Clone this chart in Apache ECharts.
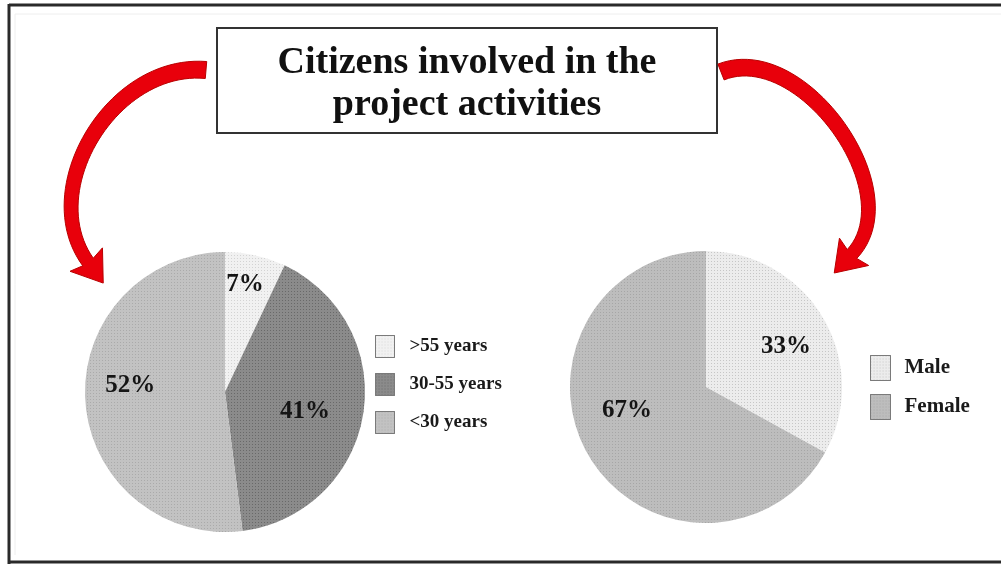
<!DOCTYPE html>
<html>
<head>
<meta charset="utf-8">
<title>Citizens involved in the project activities</title>
<script src="https://cdn.jsdelivr.net/npm/echarts@6/dist/echarts.min.js"></script>
<style>
  html, body { margin: 0; padding: 0; background: #ffffff; }
  #chart { width: 1001px; height: 564px; }
</style>
</head>
<body>
<div id="chart"></div>
<script>
// ---- data ----
const ageGroups = ['>55 years', '30-55 years', '<30 years'];
const ageShares = [7, 41, 52];
const genders = ['Male', 'Female'];
const genderShares = [33, 67];
const titleLines = ['Citizens involved in the', 'project activities'];

// ---- styles ----
const serif = '"Liberation Serif", "DejaVu Serif", serif';
const ageColors = ['#f1f1f1', '#8b8b8b', '#c2c2c2'];
const ageDots = ['rgba(0,0,0,0.12)', 'rgba(0,0,0,0.24)', 'rgba(0,0,0,0.12)'];
const genderColors = ['#ececec', '#bdbdbd'];
const genderDots = ['rgba(0,0,0,0.16)', 'rgba(0,0,0,0.12)'];
// small shifts of the value labels away from the default inside spot
const ageLabelNudge = [[4, -36], [8, 8], [-22, -11]];
const genderLabelNudge = [[19, -4], [-18, -13]];

function dotted(color) {
  return {
    symbol: 'rect',
    symbolSize: 1,
    dashArrayX: [1, 2],
    dashArrayY: [1, 2],
    rotation: 0,
    color: color
  };
}

function sliceData(names, values, colors, dots) {
  return names.map((n, i) => ({
    name: n,
    value: values[i],
    itemStyle: { color: colors[i], decal: dotted(dots[i]) }
  }));
}

// curved red arrow: a tapering band along a cubic bezier with a triangular head
function cubicPt(p, t) {
  const u = 1 - t;
  const a = u * u * u, b = 3 * u * u * t, c = 3 * u * t * t, d = t * t * t;
  return [a * p[0][0] + b * p[1][0] + c * p[2][0] + d * p[3][0],
          a * p[0][1] + b * p[1][1] + c * p[2][1] + d * p[3][1]];
}
function cubicDir(p, t) {
  const u = 1 - t;
  const dx = 3 * u * u * (p[1][0] - p[0][0]) + 6 * u * t * (p[2][0] - p[1][0]) + 3 * t * t * (p[3][0] - p[2][0]);
  const dy = 3 * u * u * (p[1][1] - p[0][1]) + 6 * u * t * (p[2][1] - p[1][1]) + 3 * t * t * (p[3][1] - p[2][1]);
  const l = Math.hypot(dx, dy) || 1;
  return [dx / l, dy / l];
}
function arrowPoints(p, w0, w1, headHalf, headLen) {
  const left = [], right = [];
  const N = 48;
  for (let i = 0; i <= N; i++) {
    const t = i / N;
    const c = cubicPt(p, t);
    const d = cubicDir(p, t);
    const n = [-d[1], d[0]];
    const w = (w0 + (w1 - w0) * t) / 2;
    left.push([c[0] + n[0] * w, c[1] + n[1] * w]);
    right.push([c[0] - n[0] * w, c[1] - n[1] * w]);
  }
  const e = cubicPt(p, 1);
  const d = cubicDir(p, 1);
  const n = [-d[1], d[0]];
  const head = [
    [e[0] + n[0] * headHalf - d[0] * 3, e[1] + n[1] * headHalf - d[1] * 3],
    [e[0] + d[0] * headLen, e[1] + d[1] * headLen],
    [e[0] - n[0] * headHalf - d[0] * 3, e[1] - n[1] * headHalf - d[1] * 3]
  ];
  return left.concat(head, right.reverse());
}

const leftArrow = arrowPoints([[206, 70], [112, 62], [36, 190], [88, 262]], 17, 13, 20, 26);
const rightArrow = arrowPoints([[721, 72], [802, 40], [910, 192], [852, 254]], 17, 13, 20, 26);

const chart = echarts.init(document.getElementById('chart'), null, { renderer: 'canvas' });

const option = {
  backgroundColor: '#ffffff',
  animation: false,
  title: {
    text: titleLines.join('\n'),
    left: 467,
    top: 42,
    textAlign: 'center',
    padding: 0,
    textStyle: {
      fontFamily: serif,
      fontWeight: 'bold',
      fontSize: 38,
      lineHeight: 42,
      color: '#111111'
    }
  },
  legend: [
    {
      data: ageGroups,
      orient: 'vertical',
      left: 375,
      top: 335,
      padding: 0,
      itemWidth: 19,
      itemHeight: 22,
      itemGap: 15,
      icon: 'rect',
      selectedMode: false,
      itemStyle: { borderColor: '#7a7a7a', borderWidth: 1 },
      textStyle: {
        fontFamily: serif,
        fontWeight: 'bold',
        fontSize: 19,
        color: '#1a1a1a',
        padding: [0, 0, 0, 10]
      }
    },
    {
      data: genders,
      orient: 'vertical',
      left: 870,
      top: 355,
      padding: 0,
      itemWidth: 20,
      itemHeight: 25,
      itemGap: 13,
      icon: 'rect',
      selectedMode: false,
      itemStyle: { borderColor: '#7a7a7a', borderWidth: 1 },
      textStyle: {
        fontFamily: serif,
        fontWeight: 'bold',
        fontSize: 21,
        color: '#1a1a1a',
        padding: [0, 0, 0, 9]
      }
    }
  ],
  series: [
    {
      name: 'Age',
      type: 'pie',
      center: [225, 392],
      radius: 140,
      startAngle: 90,
      clockwise: true,
      silent: true,
      data: sliceData(ageGroups, ageShares, ageColors, ageDots),
      label: {
        show: true,
        position: 'inside',
        formatter: '{c}%',
        fontFamily: serif,
        fontWeight: 'bold',
        fontSize: 25,
        color: '#151515'
      },
      labelLine: { show: false },
      labelLayout: function (params) {
        const s = ageLabelNudge[params.dataIndex];
        return { dx: s[0], dy: s[1] };
      },
      emphasis: { disabled: true }
    },
    {
      name: 'Gender',
      type: 'pie',
      center: [706, 387],
      radius: 136,
      startAngle: 90,
      clockwise: true,
      silent: true,
      data: sliceData(genders, genderShares, genderColors, genderDots),
      label: {
        show: true,
        position: 'inside',
        formatter: '{c}%',
        fontFamily: serif,
        fontWeight: 'bold',
        fontSize: 25,
        color: '#151515'
      },
      labelLine: { show: false },
      labelLayout: function (params) {
        const s = genderLabelNudge[params.dataIndex];
        return { dx: s[0], dy: s[1] };
      },
      emphasis: { disabled: true }
    }
  ],
  graphic: [
    // frame lines
    { type: 'line', shape: { x1: 9, y1: 5, x2: 1001, y2: 5 }, style: { stroke: '#2a2a2a', lineWidth: 3 }, z: 1 },
    { type: 'line', shape: { x1: 9, y1: 4, x2: 9, y2: 564 }, style: { stroke: '#2a2a2a', lineWidth: 3 }, z: 1 },
    { type: 'line', shape: { x1: 9, y1: 562, x2: 1001, y2: 562 }, style: { stroke: '#2a2a2a', lineWidth: 3 }, z: 1 },
    { type: 'line', shape: { x1: 15, y1: 14, x2: 1001, y2: 14 }, style: { stroke: '#eeeeee', lineWidth: 1 }, z: 1 },
    { type: 'line', shape: { x1: 15, y1: 14, x2: 15, y2: 555 }, style: { stroke: '#eeeeee', lineWidth: 1 }, z: 1 },
    // title box
    { type: 'rect', shape: { x: 217, y: 28, width: 500, height: 105 }, style: { fill: '#ffffff', stroke: '#333333', lineWidth: 2 }, z: 0 },
    // arrows from the title to each pie
    { type: 'polygon', shape: { points: leftArrow }, style: { fill: '#e8000b', stroke: '#b80000', lineWidth: 1 }, z: 2 },
    { type: 'polygon', shape: { points: rightArrow }, style: { fill: '#e8000b', stroke: '#b80000', lineWidth: 1 }, z: 2 }
  ]
};

chart.setOption(option);
</script>
</body>
</html>
